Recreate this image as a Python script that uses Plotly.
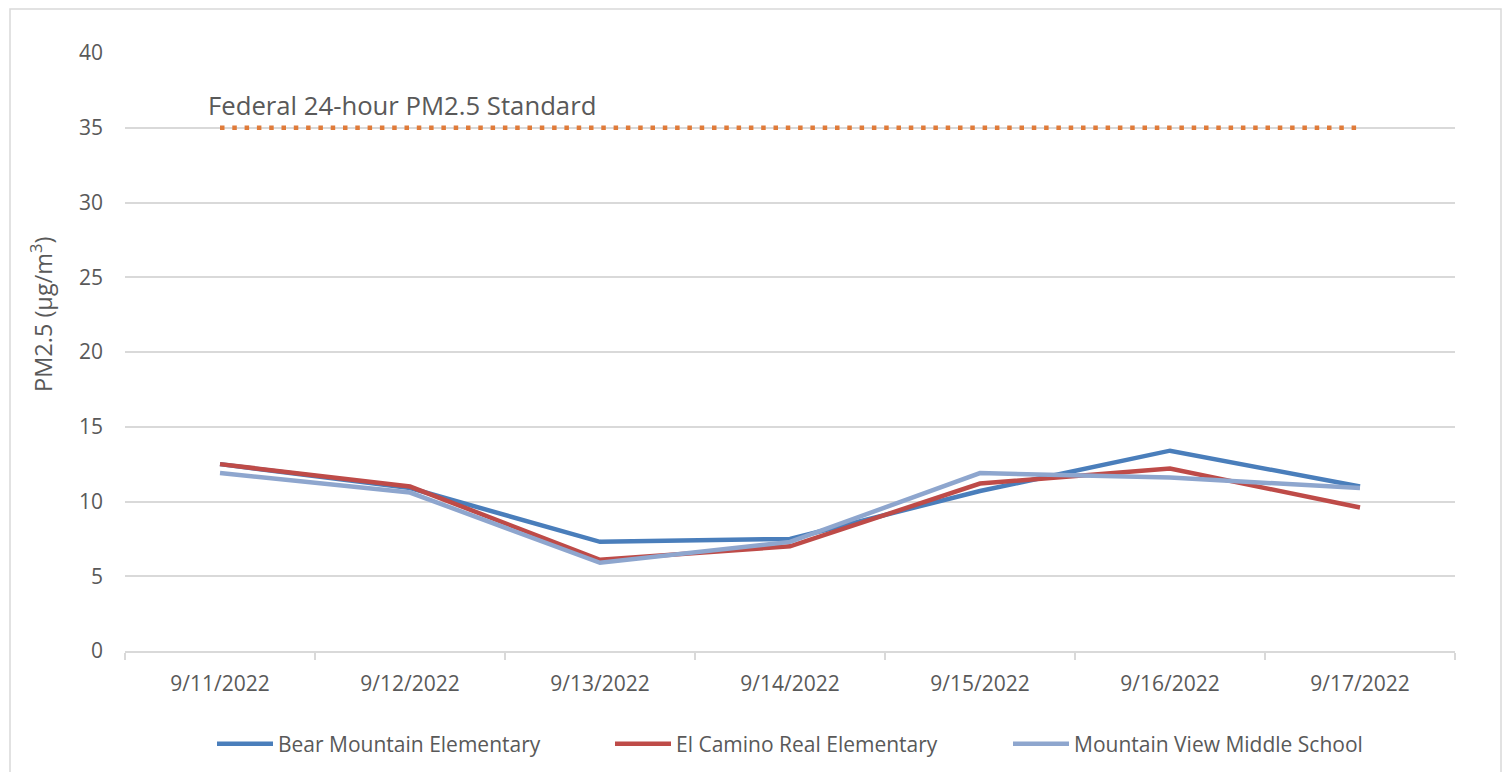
import plotly.graph_objects as go

dates = ["9/11/2022", "9/12/2022", "9/13/2022", "9/14/2022", "9/15/2022", "9/16/2022", "9/17/2022"]
bear_mountain = [12.5, 10.9, 7.3, 7.5, 10.7, 13.4, 11.0]
el_camino = [12.5, 11.0, 6.1, 7.0, 11.2, 12.2, 9.6]
mountain_view = [11.9, 10.6, 5.9, 7.3, 11.9, 11.6, 10.9]
federal_standard = [35, 35, 35, 35, 35, 35, 35]
y_ticks = [0, 5, 10, 15, 20, 25, 30, 35, 40]

FONT = "Open Sans"
TXT = "#595959"
GRID = "#D9D9D9"

fig = go.Figure()
fig.add_trace(go.Scatter(x=dates, y=federal_standard, mode="lines", showlegend=False,
                         line=dict(color="#E07B39", width=4.5, dash="4.5px,7.8px"), hoverinfo="skip"))
fig.add_trace(go.Scatter(x=dates, y=bear_mountain, mode="lines", name="Bear Mountain Elementary",
                         line=dict(color="#4A7EBB", width=4.5)))
fig.add_trace(go.Scatter(x=dates, y=el_camino, mode="lines", name="El Camino Real Elementary",
                         line=dict(color="#BE4B48", width=4.5)))
fig.add_trace(go.Scatter(x=dates, y=mountain_view, mode="lines", name="Mountain View Middle School",
                         line=dict(color="#8EA6CE", width=4.5)))

fig.update_layout(
    width=1504, height=772,
    margin=dict(l=125, r=49, t=53, b=121, autoexpand=False),
    paper_bgcolor="white", plot_bgcolor="white",
    font=dict(family=FONT, color=TXT, size=21),
    legend=dict(orientation="h", x=(212 - 125) / 1330, xanchor="left", y=-0.1555, yanchor="middle",
                font=dict(size=21, color=TXT), itemwidth=56, entrywidth=327,
                traceorder="normal"),
    showlegend=True,
)
fig.update_xaxes(type="category", range=[-0.5, 6.5], showgrid=False,
                 showline=True, linecolor=GRID, linewidth=1.5,
                 ticks="outside", tickson="boundaries", ticklen=7, tickcolor=GRID, tickwidth=1.5,
                 tickfont=dict(size=21, color=TXT), ticklabelstandoff=13)
fig.update_yaxes(range=[0, 40], tickvals=y_ticks, showgrid=True, gridcolor=GRID, gridwidth=1.5,
                 showline=False, zeroline=False, ticks="", tickfont=dict(size=21, color=TXT),
                 ticklabelstandoff=21)

fig.add_annotation(text="PM2.5 (µg/m<sup>3</sup>)", textangle=-90, xref="paper", yref="paper",
                   x=(41 - 125) / 1330, y=(651 - 315) / 598, showarrow=False,
                   font=dict(size=23.5, color=TXT), xanchor="center", yanchor="middle")
fig.add_annotation(text="Federal 24-hour PM2.5 Standard", xref="x", yref="y", x=0, y=35,
                   xanchor="left", yanchor="bottom", xshift=-14, yshift=3, showarrow=False,
                   font=dict(size=25.7, color=TXT))
fig.add_shape(type="rect", xref="paper", yref="paper",
              x0=(10 - 125) / 1330, x1=(1501 - 125) / 1330,
              y0=(651 - 790) / 598, y1=(651 - 9) / 598,
              line=dict(color=GRID, width=1.5), fillcolor="rgba(0,0,0,0)", layer="below")

fig.write_html("out.html", config={"displayModeBar": False},
               post_script="document.body.style.margin='0';")
